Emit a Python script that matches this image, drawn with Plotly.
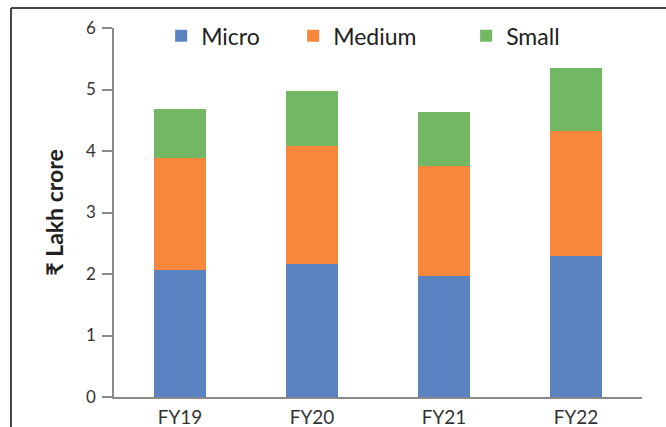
import plotly.graph_objects as go

# Credit outstanding by MSME segment (₹ lakh crore)
years = ["FY19", "FY20", "FY21", "FY22"]
micro = [2.07, 2.17, 1.96, 2.30]
medium = [1.82, 1.91, 1.80, 2.02]
small = [0.80, 0.90, 0.88, 1.03]

FONT = "Lato, 'Noto Sans', sans-serif"
colors = {"Micro": "#5B82C1", "Medium": "#F7873A", "Small": "#71B764"}

fig = go.Figure()
for name, vals, lw in [("Micro", micro, 87), ("Medium", medium, 128), ("Small", small, 80)]:
    fig.add_trace(go.Bar(
        x=years, y=vals, name=name,
        marker=dict(color=colors[name], line=dict(width=0)),
        legendwidth=lw,
    ))

fig.update_layout(
    barmode="stack",
    bargap=0.6,
    width=666, height=427,
    margin=dict(l=114, r=24, t=28, b=30),
    paper_bgcolor="white", plot_bgcolor="white",
    font=dict(family=FONT, color="#333333", size=16),
    showlegend=True,
    legend=dict(
        orientation="h", x=0.0893, xanchor="left", y=1.037, yanchor="top",
        font=dict(size=23, color="#222222"), bgcolor="rgba(0,0,0,0)",
        traceorder="normal",
    ),
    xaxis=dict(
        automargin=False,
        showline=True, linecolor="#8a8a8a", linewidth=2,
        ticks="", ticklabelstandoff=2, tickfont=dict(size=19, color="#333333"),
        showgrid=False, zeroline=False,
    ),
    yaxis=dict(
        automargin=False,
        range=[0, 6], dtick=1, showgrid=False, zeroline=False,
        showline=True, linecolor="#8a8a8a", linewidth=1.5,
        ticks="outside", ticklen=10, tickcolor="#8a8a8a", tickwidth=1.5,
        ticklabelstandoff=3,
        tickfont=dict(size=17, color="#333333"),
        title=dict(text="<b>₹ Lakh crore</b>", font=dict(size=23, color="#222222"), standoff=16),
    ),
)

# Frame lines along the left and top edges of the chart
fig.add_shape(type="line", xref="paper", yref="paper",
              x0=(11 - 114) / 528, x1=(666 - 114) / 528, y0=(397 - 8) / 369, y1=(397 - 8) / 369,
              line=dict(color="#444444", width=2))
fig.add_shape(type="line", xref="paper", yref="paper",
              x0=(11 - 114) / 528, x1=(11 - 114) / 528, y0=(397 - 8) / 369, y1=(397 - 440) / 369,
              line=dict(color="#444444", width=2))

fig.write_html("out.html")
